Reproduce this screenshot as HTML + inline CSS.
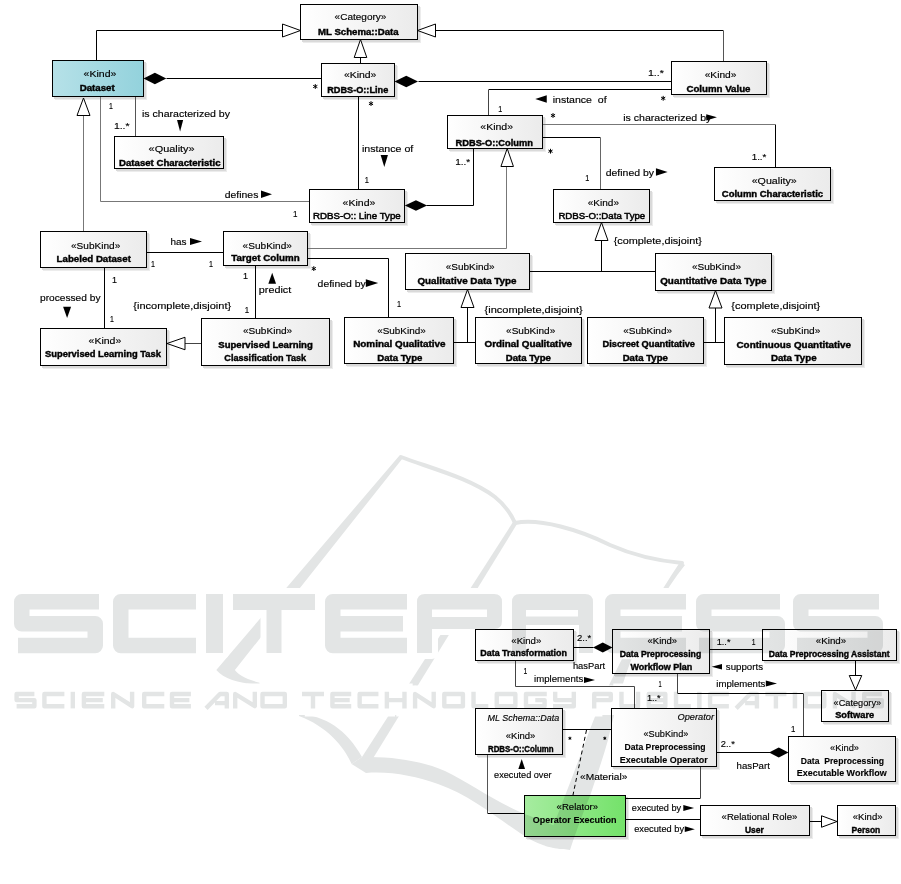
<!DOCTYPE html>
<html><head><meta charset="utf-8"><style>
html,body{margin:0;padding:0;background:#fff;}
svg{display:block;}
text{font-family:"Liberation Sans",sans-serif;stroke:#000;stroke-width:0.15px;paint-order:stroke;white-space:pre;}
text[font-weight="bold"]{stroke-width:0.42px;}
text.m{stroke-width:0.5px;}
text.b2{stroke-width:0.12px;}
</style></head><body>
<svg width="901" height="884" viewBox="0 0 901 884">
<defs>
<linearGradient id="gg" x1="0" x2="1" y1="0" y2="0"><stop offset="0" stop-color="#ffffff"/><stop offset="1" stop-color="#ebebeb"/></linearGradient>
<linearGradient id="gc" x1="0" x2="1" y1="0" y2="0"><stop offset="0" stop-color="#b6e1e8"/><stop offset="1" stop-color="#93d2dc"/></linearGradient>
<linearGradient id="gn" x1="0" x2="1" y1="0" y2="0"><stop offset="0" stop-color="#a6eca0"/><stop offset="1" stop-color="#74e26a"/></linearGradient>
</defs>
<rect width="901" height="884" fill="#fff"/>
<rect x="303" y="7" width="118" height="36" fill="#ececec"/>
<rect x="302" y="6" width="118" height="36" fill="#dadada"/>
<rect x="55" y="63" width="92" height="37" fill="#ececec"/>
<rect x="54" y="62" width="92" height="37" fill="#dadada"/>
<rect x="324" y="66" width="74" height="34" fill="#ececec"/>
<rect x="323" y="65" width="74" height="34" fill="#dadada"/>
<rect x="674" y="64" width="96" height="34" fill="#ececec"/>
<rect x="673" y="63" width="96" height="34" fill="#dadada"/>
<rect x="450" y="118" width="96" height="34" fill="#ececec"/>
<rect x="449" y="117" width="96" height="34" fill="#dadada"/>
<rect x="117" y="139" width="110" height="33" fill="#ececec"/>
<rect x="116" y="138" width="110" height="33" fill="#dadada"/>
<rect x="312" y="192" width="96" height="34" fill="#ececec"/>
<rect x="311" y="191" width="96" height="34" fill="#dadada"/>
<rect x="717" y="170" width="117" height="34" fill="#ececec"/>
<rect x="716" y="169" width="117" height="34" fill="#dadada"/>
<rect x="556" y="192" width="97" height="34" fill="#ececec"/>
<rect x="555" y="191" width="97" height="34" fill="#dadada"/>
<rect x="43" y="234" width="107" height="37" fill="#ececec"/>
<rect x="42" y="233" width="107" height="37" fill="#dadada"/>
<rect x="226" y="234" width="85" height="35" fill="#ececec"/>
<rect x="225" y="233" width="85" height="35" fill="#dadada"/>
<rect x="408" y="256" width="125" height="37" fill="#ececec"/>
<rect x="407" y="255" width="125" height="37" fill="#dadada"/>
<rect x="658" y="256" width="117" height="38" fill="#ececec"/>
<rect x="657" y="255" width="117" height="38" fill="#dadada"/>
<rect x="43" y="331" width="127" height="38" fill="#ececec"/>
<rect x="42" y="330" width="127" height="38" fill="#dadada"/>
<rect x="204" y="321" width="129" height="48" fill="#ececec"/>
<rect x="203" y="320" width="129" height="48" fill="#dadada"/>
<rect x="347" y="320" width="110" height="47" fill="#ececec"/>
<rect x="346" y="319" width="110" height="47" fill="#dadada"/>
<rect x="478" y="320" width="107" height="47" fill="#ececec"/>
<rect x="477" y="319" width="107" height="47" fill="#dadada"/>
<rect x="590" y="320" width="117" height="47" fill="#ececec"/>
<rect x="589" y="319" width="117" height="47" fill="#dadada"/>
<rect x="727" y="320" width="138" height="48" fill="#ececec"/>
<rect x="726" y="319" width="138" height="48" fill="#dadada"/>
<rect x="478" y="632" width="99" height="32" fill="#ececec"/>
<rect x="477" y="631" width="99" height="32" fill="#dadada"/>
<rect x="615" y="632" width="98" height="45" fill="#ececec"/>
<rect x="614" y="631" width="98" height="45" fill="#dadada"/>
<rect x="765" y="632" width="135" height="32" fill="#ececec"/>
<rect x="764" y="631" width="135" height="32" fill="#dadada"/>
<rect x="824" y="693" width="68" height="32" fill="#ececec"/>
<rect x="823" y="692" width="68" height="32" fill="#dadada"/>
<rect x="478" y="711" width="88" height="47" fill="#ececec"/>
<rect x="477" y="710" width="88" height="47" fill="#dadada"/>
<rect x="614" y="711" width="106" height="59" fill="#ececec"/>
<rect x="613" y="710" width="106" height="59" fill="#dadada"/>
<rect x="791" y="739" width="108" height="46" fill="#ececec"/>
<rect x="790" y="738" width="108" height="46" fill="#dadada"/>
<rect x="527" y="798" width="102" height="42" fill="#ececec"/>
<rect x="526" y="797" width="102" height="42" fill="#dadada"/>
<rect x="703" y="808" width="110" height="31" fill="#ececec"/>
<rect x="702" y="807" width="110" height="31" fill="#dadada"/>
<rect x="840" y="808" width="59" height="31" fill="#ececec"/>
<rect x="839" y="807" width="59" height="31" fill="#dadada"/>
<polyline points="96.5,60.5 96.5,30.5 283.5,30.5" fill="none" stroke="#000" stroke-width="1"/>
<polygon points="300.5,30.5 282.5,24.0 282.5,37.0" fill="#fff" stroke="#000" stroke-width="1"/>
<polyline points="723.5,61.5 723.5,31.5" fill="none" stroke="#555" stroke-width="1" stroke-linecap="square"/>
<polyline points="723.5,30.5 435.5,30.5" fill="none" stroke="#000" stroke-width="1"/>
<polygon points="417.5,30.5 435.5,24.0 435.5,37.0" fill="#fff" stroke="#000" stroke-width="1"/>
<polyline points="360.5,63.5 360.5,57.5" fill="none" stroke="#000" stroke-width="1"/>
<polygon points="360.5,39.5 354.2,57.5 366.8,57.5" fill="#fff" stroke="#000" stroke-width="1"/>
<polyline points="166.5,78.5 321.5,78.5" fill="none" stroke="#000" stroke-width="1"/>
<polygon points="143.5,78.5 154.9,72.7 166.3,78.5 154.9,84.3" fill="#000"/>
<polyline points="418.5,81.5 671.5,81.5" fill="none" stroke="#000" stroke-width="1"/>
<polygon points="394.5,81.5 406.25,75.7 418.0,81.5 406.25,87.3" fill="#000"/>
<polyline points="358.5,96.5 358.5,189.5" fill="none" stroke="#000" stroke-width="1"/>
<polyline points="488.5,115.5 488.5,90.5" fill="none" stroke="#444" stroke-width="1" stroke-linecap="square"/>
<polyline points="488.5,89.5 671.5,89.5" fill="none" stroke="#000" stroke-width="1"/>
<polyline points="543.5,124.5 774.5,124.5" fill="none" stroke="#777" stroke-width="1" stroke-linecap="square"/>
<polyline points="775.5,124.5 775.5,167.5" fill="none" stroke="#000" stroke-width="1"/>
<polyline points="542.5,137.5 600.5,137.5" fill="none" stroke="#000" stroke-width="1"/>
<polyline points="600.5,138.5 600.5,188.5" fill="none" stroke="#666" stroke-width="1" stroke-linecap="square"/>
<polyline points="473.5,148.5 473.5,205.5 426.5,205.5" fill="none" stroke="#000" stroke-width="1"/>
<polygon points="404.8,205.5 415.95,200.25 427.1,205.5 415.95,210.75" fill="#000"/>
<polyline points="506.5,166.5 506.5,248.5 308.5,248.5" fill="none" stroke="#777" stroke-width="1" stroke-linecap="square"/>
<polygon points="507.2,148.5 500.95,166.5 513.45,166.5" fill="#fff" stroke="#000" stroke-width="1"/>
<polyline points="83.5,116.5 83.5,230.5" fill="none" stroke="#777" stroke-width="1" stroke-linecap="square"/>
<polygon points="83.5,98 77.0,115.5 90.0,115.5" fill="#fff" stroke="#000" stroke-width="1"/>
<polyline points="100.5,97.5 100.5,201.5 308.5,201.5" fill="none" stroke="#777" stroke-width="1" stroke-linecap="square"/>
<polyline points="135.5,97.5 135.5,135.5" fill="none" stroke="#555" stroke-width="1" stroke-linecap="square"/>
<polyline points="146.5,252.5 223.5,252.5" fill="none" stroke="#000" stroke-width="1"/>
<polyline points="104.5,267.5 104.5,328.5" fill="none" stroke="#000" stroke-width="1"/>
<polyline points="185.5,343.5 200.5,343.5" fill="none" stroke="#444" stroke-width="1" stroke-linecap="square"/>
<polygon points="167,343.5 185,337.25 185,349.75" fill="#fff" stroke="#000" stroke-width="1"/>
<polyline points="255.5,265.5 255.5,318.5" fill="none" stroke="#000" stroke-width="1"/>
<polyline points="307.5,258.5 388.5,258.5 388.5,317.5" fill="none" stroke="#000" stroke-width="1"/>
<polyline points="467.5,307.5 467.5,342.5" fill="none" stroke="#000" stroke-width="1"/>
<polyline points="453.5,342.5 475.5,342.5" fill="none" stroke="#000" stroke-width="1"/>
<polygon points="467.5,289.5 461.0,307.5 474.0,307.5" fill="#fff" stroke="#000" stroke-width="1"/>
<polyline points="601.5,240.5 601.5,271.5" fill="none" stroke="#000" stroke-width="1"/>
<polyline points="529.5,271.5 655.5,271.5" fill="none" stroke="#000" stroke-width="1"/>
<polygon points="601.5,222.5 595.0,240.5 608.0,240.5" fill="#fff" stroke="#000" stroke-width="1"/>
<polyline points="715.5,307.5 715.5,342.5" fill="none" stroke="#000" stroke-width="1"/>
<polyline points="703.5,342.5 724.5,342.5" fill="none" stroke="#000" stroke-width="1"/>
<polygon points="715.5,290.5 709.0,308.0 722.0,308.0" fill="#fff" stroke="#000" stroke-width="1"/>
<polyline points="573.5,647.5 593.5,647.5" fill="none" stroke="#000" stroke-width="1"/>
<polygon points="612.5,647.5 602.75,642.5 593.0,647.5 602.75,652.5" fill="#000"/>
<polyline points="515.5,661.5 515.5,686.5 634.5,686.5 634.5,707.5" fill="none" stroke="#444" stroke-width="1" stroke-linecap="square"/>
<polyline points="709.5,649.5 762.5,649.5" fill="none" stroke="#000" stroke-width="1"/>
<polyline points="677.5,674.5 677.5,692.5" fill="none" stroke="#444" stroke-width="1" stroke-linecap="square"/>
<polyline points="677.5,693.5 803.5,693.5" fill="none" stroke="#000" stroke-width="1"/>
<polyline points="803.5,694.5 803.5,735.5" fill="none" stroke="#444" stroke-width="1" stroke-linecap="square"/>
<polyline points="855.5,660.5 855.5,676.5" fill="none" stroke="#000" stroke-width="1"/>
<polygon points="855.5,690 849.25,675.5 861.75,675.5" fill="#fff" stroke="#000" stroke-width="1"/>
<polyline points="562.5,729.5 611.5,729.5" fill="none" stroke="#000" stroke-width="1"/>
<polyline points="586.5,730 573,795" fill="none" stroke="#000" stroke-width="1" stroke-dasharray="4,3"/>
<polyline points="487.5,755.5 487.5,812.5" fill="none" stroke="#555" stroke-width="1" stroke-linecap="square"/>
<polyline points="487.5,813.5 524.5,813.5" fill="none" stroke="#000" stroke-width="1"/>
<polyline points="625.5,798.5 700.5,798.5" fill="none" stroke="#000" stroke-width="1"/>
<polyline points="700.5,797.5 700.5,767.5" fill="none" stroke="#444" stroke-width="1" stroke-linecap="square"/>
<polyline points="625.5,819.5 700.5,819.5" fill="none" stroke="#000" stroke-width="1"/>
<polyline points="809.5,821.5 821.5,821.5" fill="none" stroke="#000" stroke-width="1"/>
<polygon points="837,821.5 821.5,815.75 821.5,827.25" fill="#fff" stroke="#000" stroke-width="1"/>
<polyline points="716.5,752.5 770.5,752.5" fill="none" stroke="#000" stroke-width="1"/>
<polygon points="788.5,752.5 778.75,747.5 769.0,752.5 778.75,757.5" fill="#000"/>
<rect x="300.5" y="4.5" width="117" height="35" fill="url(#gg)" stroke="#000" stroke-width="1"/>
<text x="334.6" y="20" font-size="9.0" textLength="51.8" lengthAdjust="spacingAndGlyphs">«Category»</text>
<text x="318.0" y="34.8" font-size="9.5" font-weight="bold" textLength="80.63" lengthAdjust="spacingAndGlyphs">ML Schema::Data</text>
<rect x="52.5" y="60.5" width="91" height="36" fill="url(#gc)" stroke="#000" stroke-width="1"/>
<text x="83.6" y="76.9" font-size="9.0" textLength="32.74" lengthAdjust="spacingAndGlyphs">«Kind»</text>
<text x="79.7" y="90.8" font-size="9.5" font-weight="bold" textLength="35.02" lengthAdjust="spacingAndGlyphs">Dataset</text>
<rect x="321.5" y="63.5" width="73" height="33" fill="url(#gg)" stroke="#000" stroke-width="1"/>
<text x="343.9" y="77.8" font-size="9.0" textLength="32.54" lengthAdjust="spacingAndGlyphs">«Kind»</text>
<text x="327.2" y="92.8" font-size="9.5" font-weight="bold" textLength="61.06" lengthAdjust="spacingAndGlyphs">RDBS-O::Line</text>
<rect x="671.5" y="61.5" width="95" height="33" fill="url(#gg)" stroke="#000" stroke-width="1"/>
<text x="704.7" y="78" font-size="9.0" textLength="31.74" lengthAdjust="spacingAndGlyphs">«Kind»</text>
<text x="686.4" y="91.6" font-size="9.5" font-weight="bold" textLength="64.12" lengthAdjust="spacingAndGlyphs">Column Value</text>
<rect x="447.5" y="115.5" width="95" height="33" fill="url(#gg)" stroke="#000" stroke-width="1"/>
<text x="480.3" y="130.1" font-size="9.0" textLength="32.74" lengthAdjust="spacingAndGlyphs">«Kind»</text>
<text x="455.6" y="145.6" font-size="9.5" font-weight="bold" textLength="77.22" lengthAdjust="spacingAndGlyphs">RDBS-O::Column</text>
<rect x="114.5" y="136.5" width="109" height="32" fill="url(#gg)" stroke="#000" stroke-width="1"/>
<text x="148.6" y="152" font-size="9.0" textLength="46.05" lengthAdjust="spacingAndGlyphs">«Quality»</text>
<text x="119.1" y="165.7" font-size="9.5" font-weight="bold" textLength="101.4" lengthAdjust="spacingAndGlyphs">Dataset Characteristic</text>
<rect x="309.5" y="189.5" width="95" height="33" fill="url(#gg)" stroke="#000" stroke-width="1"/>
<text x="342.6" y="206" font-size="9.0" textLength="32.74" lengthAdjust="spacingAndGlyphs">«Kind»</text>
<text x="313.0" y="219.2" font-size="9.8" textLength="87.71" lengthAdjust="spacingAndGlyphs" class="m">RDBS-O:: Line Type</text>
<rect x="714.5" y="167.5" width="116" height="33" fill="url(#gg)" stroke="#000" stroke-width="1"/>
<text x="751.7" y="183.7" font-size="9.0" textLength="45.05" lengthAdjust="spacingAndGlyphs">«Quality»</text>
<text x="721.8" y="197.2" font-size="9.5" font-weight="bold" textLength="101.29" lengthAdjust="spacingAndGlyphs">Column Characteristic</text>
<rect x="553.5" y="189.5" width="96" height="33" fill="url(#gg)" stroke="#000" stroke-width="1"/>
<text x="587.8" y="205.5" font-size="9.0" textLength="31.24" lengthAdjust="spacingAndGlyphs">«Kind»</text>
<text x="558.4" y="218.9" font-size="9.8" textLength="86.84" lengthAdjust="spacingAndGlyphs" class="m">RDBS-O::Data Type</text>
<rect x="40.5" y="231.5" width="106" height="36" fill="url(#gg)" stroke="#000" stroke-width="1"/>
<text x="71.0" y="248.7" font-size="9.0" textLength="49.23" lengthAdjust="spacingAndGlyphs">«SubKind»</text>
<text x="56.6" y="261.6" font-size="9.5" font-weight="bold" textLength="74.29" lengthAdjust="spacingAndGlyphs">Labeled Dataset</text>
<rect x="223.5" y="231.5" width="84" height="34" fill="url(#gg)" stroke="#000" stroke-width="1"/>
<text x="242.6" y="248.7" font-size="9.0" textLength="49.33" lengthAdjust="spacingAndGlyphs">«SubKind»</text>
<text x="231.3" y="261.2" font-size="9.5" font-weight="bold" textLength="68.31" lengthAdjust="spacingAndGlyphs">Target Column</text>
<rect x="405.5" y="253.5" width="124" height="36" fill="url(#gg)" stroke="#000" stroke-width="1"/>
<text x="445.8" y="269.9" font-size="9.0" textLength="48.73" lengthAdjust="spacingAndGlyphs">«SubKind»</text>
<text x="417.4" y="283.5" font-size="9.5" font-weight="bold" textLength="99.15" lengthAdjust="spacingAndGlyphs">Qualitative Data Type</text>
<rect x="655.5" y="253.5" width="116" height="37" fill="url(#gg)" stroke="#000" stroke-width="1"/>
<text x="691.9" y="269.9" font-size="9.0" textLength="49.13" lengthAdjust="spacingAndGlyphs">«SubKind»</text>
<text x="660.2" y="283.5" font-size="9.5" font-weight="bold" textLength="106.31" lengthAdjust="spacingAndGlyphs">Quantitative Data Type</text>
<rect x="40.5" y="328.5" width="126" height="37" fill="url(#gg)" stroke="#000" stroke-width="1"/>
<text x="88.6" y="343.9" font-size="9.0" textLength="32.64" lengthAdjust="spacingAndGlyphs">«Kind»</text>
<text x="45.1" y="357.4" font-size="9.5" font-weight="bold" textLength="115.74" lengthAdjust="spacingAndGlyphs">Supervised Learning Task</text>
<rect x="201.5" y="318.5" width="128" height="47" fill="url(#gg)" stroke="#000" stroke-width="1"/>
<text x="242.9" y="334.4" font-size="9.0" textLength="49.33" lengthAdjust="spacingAndGlyphs">«SubKind»</text>
<text x="218.3" y="348.3" font-size="9.5" font-weight="bold" textLength="94.51" lengthAdjust="spacingAndGlyphs">Supervised Learning</text>
<text x="224.3" y="360.9" font-size="9.5" font-weight="bold" textLength="81.85" lengthAdjust="spacingAndGlyphs">Classification Task</text>
<rect x="344.5" y="317.5" width="109" height="46" fill="url(#gg)" stroke="#000" stroke-width="1"/>
<text x="377.2" y="333.5" font-size="9.0" textLength="48.53" lengthAdjust="spacingAndGlyphs">«SubKind»</text>
<text x="353.2" y="347.3" font-size="9.5" font-weight="bold" textLength="92.35" lengthAdjust="spacingAndGlyphs">Nominal Qualitative</text>
<text x="377.2" y="361.3" font-size="9.5" font-weight="bold" textLength="45.25" lengthAdjust="spacingAndGlyphs">Data Type</text>
<rect x="475.5" y="317.5" width="106" height="46" fill="url(#gg)" stroke="#000" stroke-width="1"/>
<text x="506.1" y="333.5" font-size="9.0" textLength="49.13" lengthAdjust="spacingAndGlyphs">«SubKind»</text>
<text x="484.5" y="347.3" font-size="9.5" font-weight="bold" textLength="87.6" lengthAdjust="spacingAndGlyphs">Ordinal Qualitative</text>
<text x="505.7" y="361.3" font-size="9.5" font-weight="bold" textLength="45.25" lengthAdjust="spacingAndGlyphs">Data Type</text>
<rect x="587.5" y="317.5" width="116" height="46" fill="url(#gg)" stroke="#000" stroke-width="1"/>
<text x="623.2" y="333.7" font-size="9.0" textLength="48.83" lengthAdjust="spacingAndGlyphs">«SubKind»</text>
<text x="602.5" y="347.4" font-size="9.5" font-weight="bold" textLength="92.52" lengthAdjust="spacingAndGlyphs">Discreet Quantitative</text>
<text x="622.7" y="360.9" font-size="9.5" font-weight="bold" textLength="45.14" lengthAdjust="spacingAndGlyphs">Data Type</text>
<rect x="724.5" y="317.5" width="137" height="47" fill="url(#gg)" stroke="#000" stroke-width="1"/>
<text x="770.9" y="333.5" font-size="9.0" textLength="49.43" lengthAdjust="spacingAndGlyphs">«SubKind»</text>
<text x="736.5" y="347.8" font-size="9.5" font-weight="bold" textLength="114.4" lengthAdjust="spacingAndGlyphs">Continuous Quantitative</text>
<text x="770.9" y="361.4" font-size="9.5" font-weight="bold" textLength="45.65" lengthAdjust="spacingAndGlyphs">Data Type</text>
<rect x="475.5" y="629.5" width="98" height="31" fill="url(#gg)" stroke="#000" stroke-width="1"/>
<text x="511.3" y="643.6" font-size="9.0" textLength="30.03" lengthAdjust="spacingAndGlyphs">«Kind»</text>
<text x="480.3" y="656.1" font-size="9.5" font-weight="bold" textLength="86.63" lengthAdjust="spacingAndGlyphs">Data Transformation</text>
<rect x="612.5" y="629.5" width="97" height="44" fill="url(#gg)" stroke="#000" stroke-width="1"/>
<text x="647.5" y="643.7" font-size="9.0" textLength="29.63" lengthAdjust="spacingAndGlyphs">«Kind»</text>
<text x="619.7" y="656.9" font-size="9.5" font-weight="bold" textLength="81.52" lengthAdjust="spacingAndGlyphs">Data Preprocessing</text>
<text x="630.5" y="669.5" font-size="9.5" font-weight="bold" textLength="61.71" lengthAdjust="spacingAndGlyphs">Workflow Plan</text>
<rect x="762.5" y="629.5" width="134" height="31" fill="url(#gg)" stroke="#000" stroke-width="1"/>
<text x="815.8" y="643.9" font-size="9.0" textLength="30.34" lengthAdjust="spacingAndGlyphs">«Kind»</text>
<text x="768.8" y="656.5" font-size="9.5" font-weight="bold" textLength="120.73" lengthAdjust="spacingAndGlyphs">Data Preprocessing Assistant</text>
<rect x="821.5" y="690.5" width="67" height="31" fill="url(#gg)" stroke="#000" stroke-width="1"/>
<text x="833.6" y="705.5" font-size="9.0" textLength="47.5" lengthAdjust="spacingAndGlyphs">«Category»</text>
<text x="835.2" y="718.4" font-size="9.5" font-weight="bold" textLength="38.93" lengthAdjust="spacingAndGlyphs">Software</text>
<rect x="475.5" y="708.5" width="87" height="46" fill="url(#gg)" stroke="#000" stroke-width="1"/>
<text x="487.5" y="720.8" font-size="9.4" font-style="italic" textLength="71.64" lengthAdjust="spacingAndGlyphs">ML Schema::Data</text>
<text x="505.8" y="738.6" font-size="9.0" textLength="29.53" lengthAdjust="spacingAndGlyphs">«Kind»</text>
<text x="488.0" y="751.9" font-size="9.5" font-weight="bold" textLength="65.61" lengthAdjust="spacingAndGlyphs">RDBS-O::Column</text>
<rect x="611.5" y="708.5" width="105" height="58" fill="url(#gg)" stroke="#000" stroke-width="1"/>
<text x="677.5" y="719.5" font-size="9.4" font-style="italic" textLength="36.49" lengthAdjust="spacingAndGlyphs">Operator</text>
<text x="643.5" y="737.2" font-size="9.0" textLength="44.83" lengthAdjust="spacingAndGlyphs">«SubKind»</text>
<text x="624.5" y="750.2" font-size="9.5" font-weight="bold" textLength="81.12" lengthAdjust="spacingAndGlyphs" class="b2">Data Preprocessing</text>
<text x="619.7" y="763.2" font-size="9.5" font-weight="bold" textLength="88.11" lengthAdjust="spacingAndGlyphs" class="b2">Executable Operator</text>
<rect x="788.5" y="736.5" width="107" height="45" fill="url(#gg)" stroke="#000" stroke-width="1"/>
<text x="830.0" y="750.5" font-size="9.0" textLength="29.03" lengthAdjust="spacingAndGlyphs">«Kind»</text>
<text x="800.8" y="763.9" font-size="9.5" font-weight="bold" textLength="83.3" lengthAdjust="spacingAndGlyphs" class="b2">Data  Preprocessing</text>
<text x="796.8" y="776" font-size="9.5" font-weight="bold" textLength="89.99" lengthAdjust="spacingAndGlyphs" class="b2">Executable Workflow</text>
<rect x="524.5" y="795.5" width="101" height="41" fill="url(#gn)" stroke="#000" stroke-width="1"/>
<text x="556.6" y="810.1" font-size="9.0" textLength="41.46" lengthAdjust="spacingAndGlyphs">«Relator»</text>
<text x="532.8" y="823.2" font-size="9.5" font-weight="bold" textLength="83.69" lengthAdjust="spacingAndGlyphs" class="b2">Operator Execution</text>
<rect x="700.5" y="805.5" width="109" height="30" fill="url(#gg)" stroke="#000" stroke-width="1"/>
<text x="721.6" y="819.5" font-size="9.0" textLength="75.73" lengthAdjust="spacingAndGlyphs">«Relational Role»</text>
<text x="745.0" y="832.7" font-size="9.5" font-weight="bold" textLength="18.83" lengthAdjust="spacingAndGlyphs">User</text>
<rect x="837.5" y="805.5" width="58" height="30" fill="url(#gg)" stroke="#000" stroke-width="1"/>
<text x="852.8" y="819.5" font-size="9.0" textLength="29.73" lengthAdjust="spacingAndGlyphs">«Kind»</text>
<text x="851.6" y="832.7" font-size="9.5" font-weight="bold" textLength="28.6" lengthAdjust="spacingAndGlyphs">Person</text>
<path d="M315.3,84.1 V88.9 M313.212,85.3 L317.38800000000003,87.7 M313.212,87.7 L317.38800000000003,85.3" stroke="#000" stroke-width="1" fill="none"/>
<path d="M371,101.19999999999999 V106.0 M368.912,102.39999999999999 L373.088,104.8 M368.912,104.8 L373.088,102.39999999999999" stroke="#000" stroke-width="1" fill="none"/>
<text x="361.9" y="151.6" font-size="9.4" textLength="51.36" lengthAdjust="spacingAndGlyphs">instance of</text>
<polygon points="380.65000000000003,155.1 387.95,155.1 384.3,166.9" fill="#000"/>
<text x="364.7" y="182.9" font-size="9.4" textLength="4.17" lengthAdjust="spacingAndGlyphs">1</text>
<text x="498.2" y="111.7" font-size="9.4" textLength="3.97" lengthAdjust="spacingAndGlyphs">1</text>
<polygon points="546.75,95.25 535.25,99 546.75,102.75" fill="#000"/>
<text x="552.7" y="102.7" font-size="9.4" textLength="53.94" lengthAdjust="spacingAndGlyphs">instance  of</text>
<path d="M663.2,95.89999999999999 V100.7 M661.1120000000001,97.1 L665.288,99.5 M661.1120000000001,99.5 L665.288,97.1" stroke="#000" stroke-width="1" fill="none"/>
<text x="647.9" y="75.8" font-size="9.4" textLength="15.91" lengthAdjust="spacingAndGlyphs">1..*</text>
<path d="M553,113.1 V117.9 M550.912,114.3 L555.088,116.7 M550.912,116.7 L555.088,114.3" stroke="#000" stroke-width="1" fill="none"/>
<text x="623.2" y="121" font-size="9.4" textLength="88.16" lengthAdjust="spacingAndGlyphs">is characterized by</text>
<polygon points="706.25,114.2 716.95,117.3 706.25,120.39999999999999" fill="#000"/>
<text x="751.7" y="159.7" font-size="9.4" textLength="14.71" lengthAdjust="spacingAndGlyphs">1..*</text>
<path d="M550.5,148.79999999999998 V153.6 M548.412,150.0 L552.588,152.39999999999998 M548.412,152.39999999999998 L552.588,150.0" stroke="#000" stroke-width="1" fill="none"/>
<text x="605.7" y="175.8" font-size="9.4" textLength="48.35" lengthAdjust="spacingAndGlyphs">defined by</text>
<polygon points="655.9499999999999,168.2 667.65,172 655.9499999999999,175.8" fill="#000"/>
<text x="585.2" y="181" font-size="9.4" textLength="4.07" lengthAdjust="spacingAndGlyphs">1</text>
<text x="455.2" y="164.8" font-size="9.4" textLength="15.01" lengthAdjust="spacingAndGlyphs">1..*</text>
<text x="108.9" y="109.4" font-size="9.4" textLength="3.87" lengthAdjust="spacingAndGlyphs">1</text>
<text x="113.9" y="129.4" font-size="9.4" textLength="15.71" lengthAdjust="spacingAndGlyphs">1..*</text>
<text x="141.9" y="116.8" font-size="9.4" textLength="88.16" lengthAdjust="spacingAndGlyphs">is characterized by</text>
<polygon points="177.04999999999998,120.0 183.15,120.0 180.1,131.6" fill="#000"/>
<text x="224.8" y="197.8" font-size="9.4" textLength="33.55" lengthAdjust="spacingAndGlyphs">defines</text>
<polygon points="261.0,190.5 272.0,194.25 261.0,198.0" fill="#000"/>
<text x="293.0" y="216.5" font-size="9.4" textLength="4.47" lengthAdjust="spacingAndGlyphs">1</text>
<text x="170.5" y="244.8" font-size="9.4" textLength="16.02" lengthAdjust="spacingAndGlyphs">has</text>
<polygon points="190.0,238.0 202.0,241.5 190.0,245.0" fill="#000"/>
<text x="151.0" y="266.5" font-size="9.4" textLength="3.97" lengthAdjust="spacingAndGlyphs">1</text>
<text x="209.0" y="266.5" font-size="9.4" textLength="3.97" lengthAdjust="spacingAndGlyphs">1</text>
<text x="112.1" y="282.7" font-size="9.4" textLength="4.97" lengthAdjust="spacingAndGlyphs">1</text>
<text x="109.9" y="321.8" font-size="9.4" textLength="3.87" lengthAdjust="spacingAndGlyphs">1</text>
<text x="40.0" y="301.3" font-size="9.4" textLength="60.47" lengthAdjust="spacingAndGlyphs">processed by</text>
<polygon points="63.099999999999994,306.79999999999995 71.1,306.79999999999995 67.1,318.0" fill="#000"/>
<text x="133.3" y="309.3" font-size="9.4" textLength="97.85" lengthAdjust="spacingAndGlyphs">{incomplete,disjoint}</text>
<text x="242.9" y="278.7" font-size="9.4" textLength="4.97" lengthAdjust="spacingAndGlyphs">1</text>
<text x="244.8" y="313.1" font-size="9.4" textLength="4.37" lengthAdjust="spacingAndGlyphs">1</text>
<polygon points="268.34999999999997,283.75 276.05,283.75 272.2,272.65" fill="#000"/>
<text x="258.8" y="292.7" font-size="9.4" textLength="32.41" lengthAdjust="spacingAndGlyphs">predict</text>
<path d="M313.8,266.20000000000005 V271.0 M311.712,267.40000000000003 L315.88800000000003,269.8 M311.712,269.8 L315.88800000000003,267.40000000000003" stroke="#000" stroke-width="1" fill="none"/>
<text x="317.6" y="286.7" font-size="9.4" textLength="48.05" lengthAdjust="spacingAndGlyphs">defined by</text>
<polygon points="365.8,279.20000000000005 378.2,283.1 365.8,287.0" fill="#000"/>
<text x="397.1" y="307.4" font-size="9.4" textLength="4.07" lengthAdjust="spacingAndGlyphs">1</text>
<text x="484.5" y="313" font-size="9.4" textLength="98.15" lengthAdjust="spacingAndGlyphs">{incomplete,disjoint}</text>
<text x="613.7" y="243.6" font-size="9.4" textLength="88.16" lengthAdjust="spacingAndGlyphs">{complete,disjoint}</text>
<text x="731.3" y="308.6" font-size="9.4" textLength="88.96" lengthAdjust="spacingAndGlyphs">{complete,disjoint}</text>
<text x="577.0" y="640.6" font-size="9.4" textLength="14.21" lengthAdjust="spacingAndGlyphs">2..*</text>
<text x="572.9" y="669.4" font-size="9.4" textLength="32.26" lengthAdjust="spacingAndGlyphs">hasPart</text>
<text x="523.6" y="674.4" font-size="9.4" textLength="3.77" lengthAdjust="spacingAndGlyphs">1</text>
<text x="534.1" y="682.3" font-size="9.4" textLength="49.12" lengthAdjust="spacingAndGlyphs">implements</text>
<polygon points="584.0,677.1 595.0,680 584.0,682.9" fill="#000"/>
<text x="716.7" y="644.6" font-size="9.4" textLength="13.81" lengthAdjust="spacingAndGlyphs">1..*</text>
<text x="751.8" y="644.6" font-size="9.4" textLength="3.77" lengthAdjust="spacingAndGlyphs">1</text>
<polygon points="722.0,663.9000000000001 711.5999999999999,666.7 722.0,669.5" fill="#000"/>
<text x="725.8" y="669.5" font-size="9.4" textLength="37.25" lengthAdjust="spacingAndGlyphs">supports</text>
<text x="658.4" y="686.5" font-size="9.4" textLength="3.18" lengthAdjust="spacingAndGlyphs">1</text>
<text x="716.3" y="686.5" font-size="9.4" textLength="49.12" lengthAdjust="spacingAndGlyphs">implements</text>
<polygon points="765.8,680.5 777.0,683.5 765.8,686.5" fill="#000"/>
<text x="646.9" y="700.9" font-size="9.4" textLength="13.81" lengthAdjust="spacingAndGlyphs">1..*</text>
<text x="791.0" y="732.4" font-size="9.4" textLength="4.37" lengthAdjust="spacingAndGlyphs">1</text>
<path d="M569.9,736.6999999999999 V739.9 M568.5079999999999,737.5 L571.292,739.0999999999999 M568.5079999999999,739.0999999999999 L571.292,737.5" stroke="#000" stroke-width="1" fill="none"/>
<path d="M604.8,736.6999999999999 V739.9 M603.4079999999999,737.5 L606.192,739.0999999999999 M603.4079999999999,739.0999999999999 L606.192,737.5" stroke="#000" stroke-width="1" fill="none"/>
<polygon points="518.35,769.1 525.0500000000001,769.1 521.7,759.1" fill="#000"/>
<text x="494.1" y="777.9" font-size="9.4" textLength="57.51" lengthAdjust="spacingAndGlyphs">executed over</text>
<text x="580.1" y="780.2" font-size="9.0" textLength="47.29" lengthAdjust="spacingAndGlyphs">«Material»</text>
<text x="720.8" y="746.5" font-size="9.4" textLength="14.01" lengthAdjust="spacingAndGlyphs">2..*</text>
<text x="736.6" y="768.8" font-size="9.4" textLength="33.26" lengthAdjust="spacingAndGlyphs">hasPart</text>
<text x="631.8" y="810.5" font-size="9.4" textLength="49.32" lengthAdjust="spacingAndGlyphs">executed by</text>
<polygon points="683.3000000000001,805.1 694.1,808 683.3000000000001,810.9" fill="#000"/>
<text x="634.2" y="831.7" font-size="9.4" textLength="49.82" lengthAdjust="spacingAndGlyphs">executed by</text>
<polygon points="684.75,826.3000000000001 694.8499999999999,829.2 684.75,832.1" fill="#000"/>
<mask id="lm" maskUnits="userSpaceOnUse" x="0" y="0" width="901" height="884"><rect x="0" y="0" width="901" height="884" fill="#fff"/>
<g fill="none" stroke="#000" stroke-width="27.5" stroke-linejoin="round" stroke-linecap="square">
<path d="M99,601.75 H21.75 V623.75 H95.25 V645.5 H18"/>
<path d="M196,601.75 H120.75 V645.5 H196"/>
<path d="M407,601.75 H332.75 V645.5 H407 M332.75,623.75 H403"/>
<path d="M686,601.75 H612.75 V645.5 H686 M612.75,623.75 H682"/>
<path d="M780,601.75 H703.75 V623.75 H777.25 V645.5 H699"/>
<path d="M879,601.75 H800.75 V623.75 H875.25 V645.5 H797"/>
</g>
<g fill="#000" stroke="#000" stroke-width="12" stroke-linejoin="round">
<rect x="206" y="594" width="17" height="59"/>
<rect x="233" y="594" width="82" height="16"/><rect x="266.5" y="594" width="15" height="59"/>
<path d="M417,653 V602 Q417,594 425,594 H494 Q502,594 502,602 V621 Q502,629 494,629 H432 V653 Z M432,609.5 V617 H487 V609.5 Z" fill-rule="evenodd"/>
<path d="M512,653 V602 Q512,594 520,594 H585 Q593,594 593,602 V653 H579 V625 H526 V653 Z M526,610 V616.5 H578 V610 Z" fill-rule="evenodd"/>
</g>
<g fill="none" stroke="#000" stroke-width="16.4" stroke-linejoin="round" stroke-linecap="square">
<path d="M34.4,694.0 H16.6 V700.0999999999999 H34.4 V706.1999999999999 H16.6"/>
<path d="M64.4,694.0 H44.400000000000006 V706.1999999999999 H64.4"/>
<rect x="70.6" y="691.8" width="4.400000000000006" height="16.600000000000023" fill="#000" stroke="#000" stroke-width="12"/>
<path d="M104.3,694.0 H83.9 V706.1999999999999 H104.3 M83.9,700.0999999999999 H102.8"/>
<path d="M113.2,708.4 V694.0 L132.10000000000002,706.1999999999999 V691.8"/>
<path d="M164.3,694.0 H144.2 V706.1999999999999 H164.3"/>
<path d="M190.9,694.0 H172.0 V706.1999999999999 H190.9 M172.0,700.0999999999999 H189.4"/>
<path d="M206,708.4 L220,694.0 H226.8 V708.4 M215,703.0999999999999 H226.8"/>
<path d="M235.2,708.4 V694.0 L254.8,706.1999999999999 V691.8"/>
<path d="M262.5,694.0 H284.8 V706.1999999999999 H262.5 Z"/>
<path d="M302,694.0 H324 M313.0,694.0 V708.4"/>
<path d="M351.22222222222223,694.0 H332.4222222222222 V706.1999999999999 H351.22222222222223 M332.4222222222222,700.0999999999999 H349.72222222222223"/>
<path d="M378.44444444444446,694.0 H359.64444444444445 V706.1999999999999 H378.44444444444446"/>
<path d="M386.8666666666667,691.8 V708.4 M404.4666666666667,691.8 V708.4 M386.8666666666667,700.0999999999999 H404.4666666666667"/>
<path d="M415.0888888888889,708.4 V694.0 L433.6888888888889,706.1999999999999 V691.8"/>
<path d="M444.31111111111113,694.0 H462.91111111111115 V706.1999999999999 H444.31111111111113 Z"/>
<path d="M473.53333333333336,691.8 V706.1999999999999 H488.33333333333337"/>
<path d="M496.7555555555556,694.0 H515.3555555555556 V706.1999999999999 H496.7555555555556 Z"/>
<path d="M546.7777777777778,694.0 H525.9777777777779 V706.1999999999999 H544.5777777777778 V700.0999999999999 H535.2777777777778"/>
<path d="M555.2,691.8 V700.0999999999999 H573.8 M573.8,691.8 V706.1999999999999 H553.0"/>
<path d="M594.2,708.4 V694.0 H610.8 V700.0999999999999 H594.2"/>
<path d="M621.4727272727273,691.8 V706.1999999999999 H638.0727272727272 V691.8"/>
<path d="M648.7454545454545,694.0 H665.3454545454545 V706.1999999999999 H648.7454545454545 Z M648.7454545454545,700.0999999999999 H665.3454545454545"/>
<path d="M676.0181818181818,691.8 V706.1999999999999 H690.8181818181818"/>
<rect x="697.090909090909" y="691.8" width="4.5" height="16.600000000000023" fill="#000" stroke="#000" stroke-width="12"/>
<path d="M728.8636363636363,694.0 H710.0636363636363 V706.1999999999999 H728.8636363636363"/>
<path d="M736.1363636363635,708.4 L750.1363636363635,694.0 H756.9363636363635 V708.4 M745.1363636363635,703.0999999999999 H756.9363636363635"/>
<path d="M765.4090909090908,694.0 H786.4090909090908 M775.9090909090908,694.0 V708.4"/>
<rect x="792.681818181818" y="691.8" width="4.5" height="16.600000000000023" fill="#000" stroke="#000" stroke-width="12"/>
<path d="M805.6545454545453,694.0 H824.2545454545452 V706.1999999999999 H805.6545454545453 Z"/>
<path d="M834.9272727272726,708.4 V694.0 L853.5272727272725,706.1999999999999 V691.8"/>
<path d="M881.7999999999997,694.0 H864.1999999999998 V700.0999999999999 H881.7999999999997 V706.1999999999999 H864.1999999999998"/>
</g>
<rect x="0" y="685.5" width="901" height="29.5" fill="#000"/>
</mask>
<g style="mix-blend-mode:multiply">
<g mask="url(#lm)">
<g fill="none" stroke="#e3e5e5" stroke-linecap="round" stroke-linejoin="round">
<path d="M401,457 C430,468 470,478 495,497 C505,505 511,514 515,523 C540,518 580,530 610,545 C635,556 660,561 682,563" stroke-width="4"/>
</g>
<path d="M399.5,455.5 L402.5,458.5 L234.9,670 C238,674 245,679 259.5,682.7 L259.5,684.4 C240,684 224,679 216.3,670 Z" fill="#e3e5e5"/>
<path d="M299,714.5 C325,715 347,730 362,757 L351.6,764 C344,746 326,726 299,716 Z" fill="#e3e5e5"/>
<path d="M351.6,764 L362,757 C395,756 425,762 445,771 C470,783 500,805 530,816 L565,830 L569,849 C555,850 537,845 520,833 C500,820 470,795 438,784 C415,776 390,771 366,773 Z" fill="#e3e5e5"/>
<path d="M513,522 L517,524 L372,760 L362,757 Z" fill="#e3e5e5"/>
<path d="M680,562 C655,600 632,640 620,663 C605,692 594,718 586,740 C578,762 560,810 545,846 L570,850 C578,826 585,808 590,796 C597,775 603,758 608,740 C614,715 620,690 630,663 C645,625 665,590 685,565 Z" fill="#e3e5e5"/>
</g>
<g fill="none" stroke="#e3e5e5" stroke-width="15.5" stroke-linejoin="round" stroke-linecap="butt">
<path d="M99,601.75 H21.75 V623.75 H95.25 V645.5 H18"/>
<path d="M196,601.75 H120.75 V645.5 H196"/>
<path d="M407,601.75 H332.75 V645.5 H407 M332.75,623.75 H403"/>
<path d="M686,601.75 H612.75 V645.5 H686 M612.75,623.75 H682"/>
<path d="M780,601.75 H703.75 V623.75 H777.25 V645.5 H699"/>
<path d="M879,601.75 H800.75 V623.75 H875.25 V645.5 H797"/>
</g>
<g fill="#e3e5e5" stroke="none" stroke-width="0" stroke-linejoin="round">
<rect x="206" y="594" width="17" height="59"/>
<rect x="233" y="594" width="82" height="16"/><rect x="266.5" y="594" width="15" height="59"/>
<path d="M417,653 V602 Q417,594 425,594 H494 Q502,594 502,602 V621 Q502,629 494,629 H432 V653 Z M432,609.5 V617 H487 V609.5 Z" fill-rule="evenodd"/>
<path d="M512,653 V602 Q512,594 520,594 H585 Q593,594 593,602 V653 H579 V625 H526 V653 Z M526,610 V616.5 H578 V610 Z" fill-rule="evenodd"/>
</g>
<g fill="none" stroke="#e3e5e5" stroke-width="4.4" stroke-linejoin="round" stroke-linecap="butt">
<path d="M34.4,694.0 H16.6 V700.0999999999999 H34.4 V706.1999999999999 H16.6"/>
<path d="M64.4,694.0 H44.400000000000006 V706.1999999999999 H64.4"/>
<rect x="70.6" y="691.8" width="4.400000000000006" height="16.600000000000023" fill="#e3e5e5" stroke="none" stroke-width="0"/>
<path d="M104.3,694.0 H83.9 V706.1999999999999 H104.3 M83.9,700.0999999999999 H102.8"/>
<path d="M113.2,708.4 V694.0 L132.10000000000002,706.1999999999999 V691.8"/>
<path d="M164.3,694.0 H144.2 V706.1999999999999 H164.3"/>
<path d="M190.9,694.0 H172.0 V706.1999999999999 H190.9 M172.0,700.0999999999999 H189.4"/>
<path d="M206,708.4 L220,694.0 H226.8 V708.4 M215,703.0999999999999 H226.8"/>
<path d="M235.2,708.4 V694.0 L254.8,706.1999999999999 V691.8"/>
<path d="M262.5,694.0 H284.8 V706.1999999999999 H262.5 Z"/>
<path d="M302,694.0 H324 M313.0,694.0 V708.4"/>
<path d="M351.22222222222223,694.0 H332.4222222222222 V706.1999999999999 H351.22222222222223 M332.4222222222222,700.0999999999999 H349.72222222222223"/>
<path d="M378.44444444444446,694.0 H359.64444444444445 V706.1999999999999 H378.44444444444446"/>
<path d="M386.8666666666667,691.8 V708.4 M404.4666666666667,691.8 V708.4 M386.8666666666667,700.0999999999999 H404.4666666666667"/>
<path d="M415.0888888888889,708.4 V694.0 L433.6888888888889,706.1999999999999 V691.8"/>
<path d="M444.31111111111113,694.0 H462.91111111111115 V706.1999999999999 H444.31111111111113 Z"/>
<path d="M473.53333333333336,691.8 V706.1999999999999 H488.33333333333337"/>
<path d="M496.7555555555556,694.0 H515.3555555555556 V706.1999999999999 H496.7555555555556 Z"/>
<path d="M546.7777777777778,694.0 H525.9777777777779 V706.1999999999999 H544.5777777777778 V700.0999999999999 H535.2777777777778"/>
<path d="M555.2,691.8 V700.0999999999999 H573.8 M573.8,691.8 V706.1999999999999 H553.0"/>
<path d="M594.2,708.4 V694.0 H610.8 V700.0999999999999 H594.2"/>
<path d="M621.4727272727273,691.8 V706.1999999999999 H638.0727272727272 V691.8"/>
<path d="M648.7454545454545,694.0 H665.3454545454545 V706.1999999999999 H648.7454545454545 Z M648.7454545454545,700.0999999999999 H665.3454545454545"/>
<path d="M676.0181818181818,691.8 V706.1999999999999 H690.8181818181818"/>
<rect x="697.090909090909" y="691.8" width="4.5" height="16.600000000000023" fill="#e3e5e5" stroke="none" stroke-width="0"/>
<path d="M728.8636363636363,694.0 H710.0636363636363 V706.1999999999999 H728.8636363636363"/>
<path d="M736.1363636363635,708.4 L750.1363636363635,694.0 H756.9363636363635 V708.4 M745.1363636363635,703.0999999999999 H756.9363636363635"/>
<path d="M765.4090909090908,694.0 H786.4090909090908 M775.9090909090908,694.0 V708.4"/>
<rect x="792.681818181818" y="691.8" width="4.5" height="16.600000000000023" fill="#e3e5e5" stroke="none" stroke-width="0"/>
<path d="M805.6545454545453,694.0 H824.2545454545452 V706.1999999999999 H805.6545454545453 Z"/>
<path d="M834.9272727272726,708.4 V694.0 L853.5272727272725,706.1999999999999 V691.8"/>
<path d="M881.7999999999997,694.0 H864.1999999999998 V700.0999999999999 H881.7999999999997 V706.1999999999999 H864.1999999999998"/>
</g>
</g>
</svg>
</body></html>
